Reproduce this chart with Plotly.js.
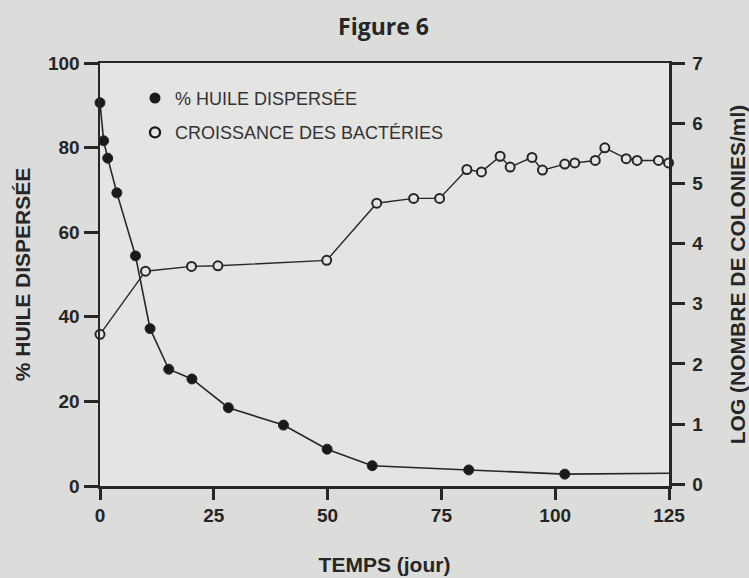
<!DOCTYPE html>
<html>
<head>
<meta charset="utf-8">
<script src="https://cdn.plot.ly/plotly-3.0.1.min.js"></script>
<style>html,body{margin:0;padding:0;background:#dcdcdc;}#chart{width:749px;height:578px;}</style>
</head>
<body>
<div id="chart"></div>
<script>
// Oil dispersed (%), left axis
const oilDays = [0, 0.8, 1.7, 3.7, 7.8, 11, 15.1, 20.2, 28.2, 40.3, 49.9, 59.8, 81, 102.1, 125];
const oilPct  = [90.6, 81.6, 77.5, 69.3, 54.4, 37.2, 27.6, 25.3, 18.5, 14.4, 8.7, 4.8, 3.8, 2.8, 3.0];

// Bacterial growth, log(colonies/ml), right axis
const bactDays = [0, 10, 20.1, 25.9, 49.8, 60.8, 68.9, 74.6, 80.6, 83.8, 87.9, 90.1, 94.9, 97.2, 102.1, 104.3, 108.8, 110.9, 115.6, 118, 122.7, 124.9];
const bactLog  = [2.49, 3.54, 3.62, 3.63, 3.72, 4.67, 4.75, 4.75, 5.23, 5.19, 5.45, 5.27, 5.43, 5.22, 5.32, 5.34, 5.38, 5.59, 5.41, 5.38, 5.38, 5.34];

const xTicks = [0, 25, 50, 75, 100, 125];
const yTicks = [0, 20, 40, 60, 80, 100];
const y2Ticks = [0, 1, 2, 3, 4, 5, 6, 7];

const labelOil = '% HUILE DISPERSÉE';
const labelBact = 'CROISSANCE DES BACTÉRIES';

const ink = '#262626';
const plotBg = '#e4e4e3';
const lastDay = oilDays[oilDays.length - 1];

const traces = [
  {
    x: oilDays, y: oilPct, type: 'scatter', mode: 'lines+markers',
    line: {color: ink, width: 1.6},
    marker: {color: '#1a1a1a', opacity: 1, size: oilDays.map(d => d === lastDay ? 0 : 10)},
    cliponaxis: false, showlegend: false, hoverinfo: 'x+y'
  },
  {
    x: bactDays, y: bactLog, type: 'scatter', mode: 'lines+markers', yaxis: 'y2',
    line: {color: ink, width: 1.4},
    marker: {color: plotBg, size: 9, line: {color: ink, width: 2}},
    cliponaxis: false, showlegend: false, hoverinfo: 'x+y'
  },
  {
    x: [null], y: [null], type: 'scatter', mode: 'markers', name: labelOil,
    marker: {color: '#1a1a1a', size: 11}, legend: 'legend'
  },
  {
    x: [null], y: [null], type: 'scatter', mode: 'markers', name: labelBact,
    marker: {color: plotBg, size: 10, line: {color: '#1a1a1a', width: 2.4}}, legend: 'legend2'
  }
];

const tickFont = {family: 'Liberation Sans', size: 19, color: ink, weight: 'bold'};
const titleFont = {family: 'Liberation Sans', size: 21, color: ink, weight: 'bold'};
const legendFont = {family: 'Liberation Sans', size: 18, color: '#333333'};

const layout = {
  width: 749, height: 578,
  margin: {l: 100, r: 80, t: 63, b: 92},
  paper_bgcolor: '#dcdcdb',
  plot_bgcolor: plotBg,
  title: {
    text: 'Figure 6', x: 0.512, xanchor: 'center', y: 0.953, yanchor: 'middle',
    font: {family: 'Open Sans', size: 23, color: ink, weight: 'bold'}
  },
  xaxis: {
    range: [0, 125], tickvals: xTicks, ticktext: xTicks.map(String),
    showline: true, linecolor: ink, linewidth: 2.5, mirror: true,
    ticks: 'outside', ticklen: 11, tickwidth: 3, tickcolor: ink,
    showgrid: false, zeroline: false, tickfont: tickFont,
    title: {text: 'TEMPS (jour)', font: titleFont, standoff: 32}
  },
  yaxis: {
    range: [0, 100], tickvals: yTicks, ticktext: yTicks.map(String),
    showline: true, linecolor: ink, linewidth: 2.5,
    ticks: 'outside', ticklen: 14, tickwidth: 3, tickcolor: ink,
    showgrid: false, zeroline: false, tickfont: tickFont,
    title: {text: '% HUILE DISPERSÉE', font: titleFont, standoff: 12}
  },
  yaxis2: {
    overlaying: 'y', side: 'right',
    range: [-0.03, 7.0], tickvals: y2Ticks, ticktext: y2Ticks.map(String),
    showline: true, linecolor: ink, linewidth: 2.5,
    ticks: 'outside', ticklen: 13, tickwidth: 3, tickcolor: ink, ticklabelstandoff: 4,
    showgrid: false, zeroline: false, tickfont: tickFont,
    title: {text: 'LOG (NOMBRE DE COLONIES/ml)', font: titleFont, standoff: 28}
  },
  legend: {
    x: 0.0615, xanchor: 'left', y: 0.96, yanchor: 'top',
    bgcolor: 'rgba(0,0,0,0)', font: legendFont, itemwidth: 30
  },
  legend2: {
    x: 0.0615, xanchor: 'left', y: 0.879, yanchor: 'top',
    bgcolor: 'rgba(0,0,0,0)', font: legendFont, itemwidth: 30
  },
  showlegend: true
};

Plotly.newPlot('chart', traces, layout, {displayModeBar: false, staticPlot: true});
</script>
</body>
</html>
